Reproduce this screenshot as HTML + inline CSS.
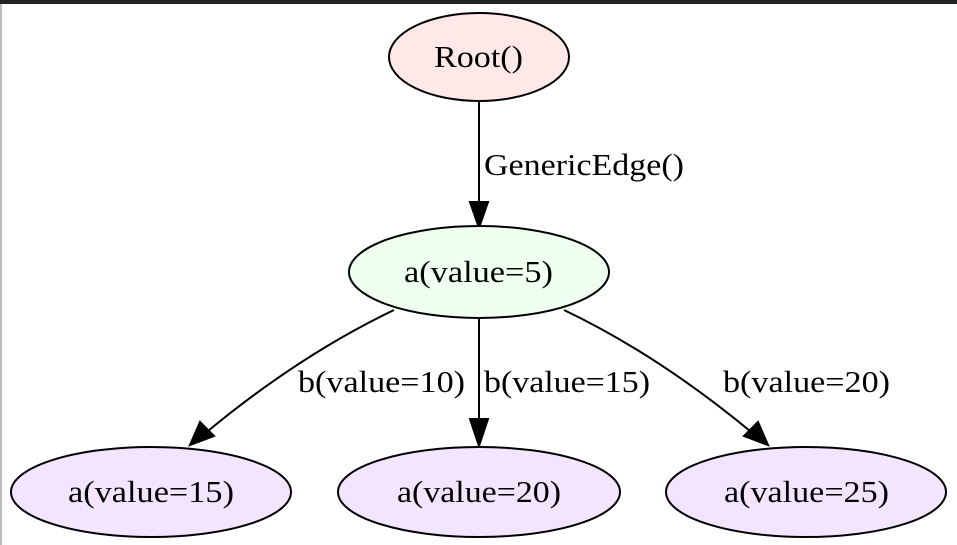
<!DOCTYPE html>
<html><head><meta charset="utf-8"><style>
html,body{margin:0;padding:0;background:#fff;}
svg{display:block;}
</style></head><body>
<svg width="957" height="545" viewBox="0 0 957 545" xmlns="http://www.w3.org/2000/svg" font-family="Liberation Serif, serif" font-size="31">
<rect x="0" y="0" width="957" height="545" fill="#fff"/>
<rect x="0" y="0" width="957" height="4" fill="#222"/>
<rect x="0" y="4" width="2" height="541" fill="#bbb"/>
<g stroke="#000" stroke-width="2" fill="none">
<line x1="479" y1="101" x2="479" y2="202"/>
<line x1="479" y1="318" x2="479" y2="419"/>
<path d="M394,310 Q300,355 208,431"/>
<path d="M564,310 Q658,355 750,431"/>
</g>
<g fill="#000" stroke="#000" stroke-width="2">
<polygon points="470,202 488,202 479,228"/>
<polygon points="470,419 488,419 479,446"/>
<polygon points="200,422 214,436 190,445"/>
<polygon points="758,422 744,436 768,445"/>
</g>
<g stroke="#000" stroke-width="2">
<ellipse cx="479" cy="57" rx="90" ry="44" fill="#ffe8e8"/>
<ellipse cx="479" cy="272" rx="130" ry="46" fill="#effff0"/>
<ellipse cx="151" cy="492" rx="140" ry="45" fill="#f3e4ff"/>
<ellipse cx="479" cy="492" rx="141" ry="45" fill="#f3e4ff"/>
<ellipse cx="806" cy="492" rx="140" ry="45" fill="#f3e4ff"/>
</g>
<g fill="#000">
<text x="434" y="67" font-size="31" textLength="89" lengthAdjust="spacingAndGlyphs">Root()</text>
<text x="404" y="282" font-size="31" textLength="149" lengthAdjust="spacingAndGlyphs">a(value=5)</text>
<text x="68" y="502" font-size="31" textLength="166" lengthAdjust="spacingAndGlyphs">a(value=15)</text>
<text x="397" y="502" font-size="31" textLength="164" lengthAdjust="spacingAndGlyphs">a(value=20)</text>
<text x="724" y="502" font-size="31" textLength="165" lengthAdjust="spacingAndGlyphs">a(value=25)</text>
<text x="484" y="175" font-size="31" textLength="200" lengthAdjust="spacingAndGlyphs">GenericEdge()</text>
<text x="298" y="392" font-size="31" textLength="167" lengthAdjust="spacingAndGlyphs">b(value=10)</text>
<text x="484" y="392" font-size="31" textLength="166" lengthAdjust="spacingAndGlyphs">b(value=15)</text>
<text x="723" y="392" font-size="31" textLength="167" lengthAdjust="spacingAndGlyphs">b(value=20)</text>
</g>
</svg>
</body></html>
